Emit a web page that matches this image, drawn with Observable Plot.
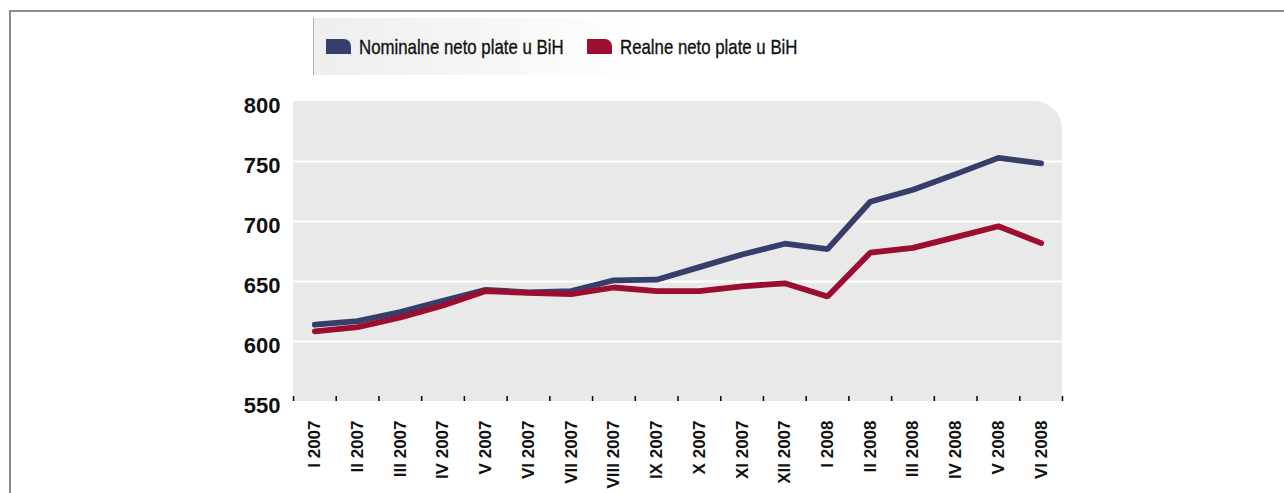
<!DOCTYPE html>
<html>
<head>
<meta charset="utf-8">
<script src="https://cdn.jsdelivr.net/npm/d3@7"></script>
<script src="https://cdn.jsdelivr.net/npm/@observablehq/plot@0.6"></script>
<style>
  html, body { margin: 0; padding: 0; background: #fff; }
  body { width: 1284px; height: 493px; position: relative; overflow: hidden; font-family: "Liberation Sans", Arial, sans-serif; }
  #frame { position: absolute; left: 9px; top: 10px; width: 1300px; height: 600px; border: 2px solid #8c8c8c; box-sizing: border-box; }
  #legend { position: absolute; left: 313px; top: 18px; width: 330px; height: 57px; border-left: 1.5px solid #b0b0b0;
            background: linear-gradient(to right, #eeeeee 0%, #f6f6f6 50%, #ffffff 100%); }
  .item { position: absolute; top: 0; height: 57px; display: flex; align-items: center; }
  .sw { width: 25px; height: 15px; border-top-right-radius: 7px; margin-right: 8px; flex: none; }
  .lab { display: inline-block; font-family: "Liberation Sans", Arial, sans-serif; font-size: 21px; color: #111; white-space: nowrap;
         transform: scaleX(0.8); transform-origin: left center; -webkit-text-stroke: 0.35px #111; }
  #chart { position: absolute; left: 0; top: 90px; }
</style>
</head>
<body>
<div id="frame"></div>
<div id="legend"></div>
<div id="chart"></div>
<script>
const months = ["I 2007","II 2007","III 2007","IV 2007","V 2007","VI 2007","VII 2007","VIII 2007","IX 2007","X 2007","XI 2007","XII 2007",
                "I 2008","II 2008","III 2008","IV 2008","V 2008","VI 2008"];
const nominal = [614, 617, 624.5, 634, 643, 641, 642, 651, 651.5, 662, 672.5, 681.5, 677, 716.5, 726.5, 739.5, 753, 748.5];
const real    = [608.5, 612, 620, 630, 642, 640.5, 639.5, 645, 642, 642, 646, 648.5, 637.5, 674, 678, 687, 696, 682];
const seriesNames = ["Nominalne neto plate u BiH", "Realne neto plate u BiH"];
const seriesColors = ["#363e6b", "#9b0e30"];
const yTicks = [550, 600, 650, 700, 750, 800];
const gridTicks = [600, 650, 700, 750];

const rows = [];
months.forEach((m, i) => {
  rows.push({idx: i + 0.5, month: m, value: nominal[i], series: seriesNames[0]});
  rows.push({idx: i + 0.5, month: m, value: real[i], series: seriesNames[1]});
});

// legend
const legend = document.getElementById("legend");
const lx = [12, 273];
seriesNames.forEach((name, k) => {
  const it = document.createElement("div");
  it.className = "item";
  it.style.left = lx[k] + "px";
  it.innerHTML = `<div class="sw" style="background:${seriesColors[k]}"></div><span class="lab">${name}</span>`;
  legend.appendChild(it);
});

const background = (index, scales, values, dimensions) => {
  const {width, height, marginLeft, marginRight, marginTop, marginBottom} = dimensions;
  const x0 = marginLeft, x1 = width - marginRight, y0 = marginTop, y1 = height - marginBottom, r = 28;
  return d3.create("svg:path")
    .attr("d", `M${x0},${y0}H${x1 - r}A${r},${r} 0 0 1 ${x1},${y0 + r}V${y1}H${x0}Z`)
    .attr("fill", "#e9e9e9")
    .node();
};

const chart = Plot.plot({
  width: 1284,
  height: 403,
  marginTop: 11,
  marginBottom: 92,
  marginLeft: 293,
  marginRight: 222,
  style: {fontFamily: "'Liberation Sans', Arial, sans-serif", color: "#111", background: "transparent"},
  x: {type: "linear", domain: [0, months.length], label: null},
  y: {domain: [550, 800], label: null},
  color: {domain: seriesNames, range: seriesColors},
  marks: [
    background,
    Plot.ruleY(gridTicks, {stroke: "#ffffff", strokeWidth: 2.2}),
    Plot.lineY(rows, {x: "idx", y: "value", z: "series", stroke: "series", strokeWidth: 5.8, strokeLinejoin: "miter"}),
    Plot.axisY({ticks: yTicks, tickSize: 0, tickPadding: 13, fontSize: 22, fontWeight: "bold", dy: 4, label: null}),
    Plot.axisX({ticks: d3.range(months.length + 1), tickSize: 5, dy: -5, tickFormat: () => "", stroke: "#000", strokeWidth: 1.5, label: null}),
    Plot.axisX({ticks: months.map((m, i) => i + 0.5), tickFormat: d => months[Math.round(d - 0.5)], tickSize: 0, tickPadding: 19,
                tickRotate: -90, fontSize: 17, fontWeight: "bold", label: null})
  ]
});
document.getElementById("chart").appendChild(chart);
</script>
</body>
</html>
